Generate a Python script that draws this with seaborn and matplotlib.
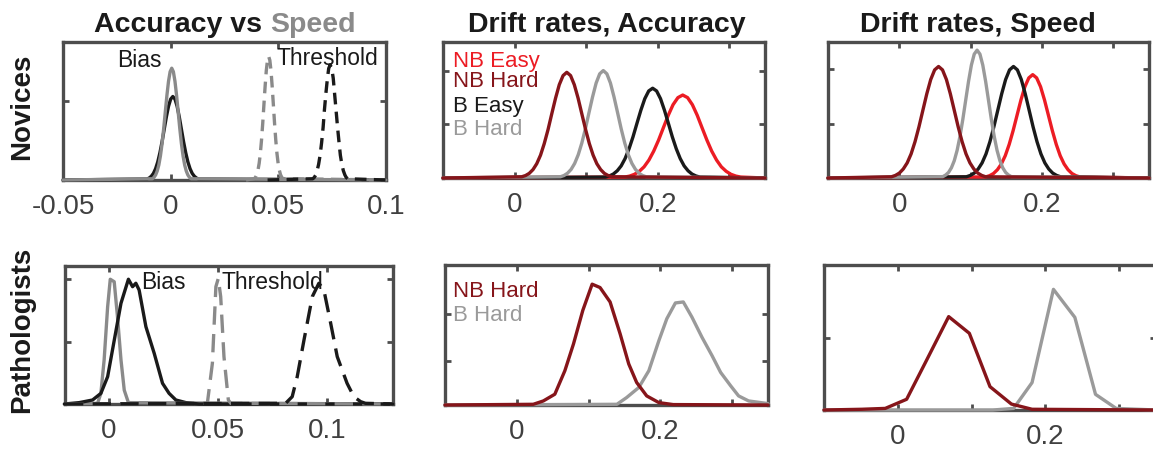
import matplotlib
matplotlib.use("Agg")
import matplotlib.pyplot as plt
import seaborn as sns

# colours
RED = "#ec1c24"
DARKRED = "#86151a"
BLACK = "#1a1a1a"
GRAY = "#9a9a9a"
GRAY_SPD = "#8a8a8a"
AXC = "#4d4d4d"
TICKC = "#404040"

# ---- Novices, accuracy vs speed (bias / threshold posteriors)
tl_bias_acc_x = [-0.05, -0.011, -0.010, -0.009, -0.008, -0.007, -0.006, -0.005, -0.004, -0.003, -0.002, -0.001, 0.0,
                 0.001, 0.002, 0.003, 0.004, 0.005, 0.006, 0.007, 0.008, 0.009, 0.010, 0.011, 0.012, 0.013, 0.1]
tl_bias_acc_y = [0, 0.007, 0.014, 0.027, 0.048, 0.082, 0.131, 0.197, 0.277, 0.367, 0.457, 0.534, 0.586,
                 0.605, 0.586, 0.534, 0.457, 0.367, 0.277, 0.197, 0.131, 0.082, 0.048, 0.027, 0.014, 0.007, 0]
tl_bias_spd_x = [-0.05, -0.0085, -0.00775, -0.007, -0.00625, -0.0055, -0.00475, -0.004, -0.00325, -0.0025, -0.00175,
                 -0.001, -0.00025, 0.0005, 0.00125, 0.002, 0.00275, 0.0035, 0.00425, 0.005, 0.00575, 0.0065,
                 0.00725, 0.008, 0.00875, 0.0095, 0.1]
tl_bias_spd_y = [0, 0.009, 0.019, 0.036, 0.065, 0.109, 0.175, 0.263, 0.371, 0.492, 0.612, 0.715, 0.785,
                 0.81, 0.785, 0.715, 0.612, 0.492, 0.371, 0.263, 0.175, 0.109, 0.065, 0.036, 0.019, 0.009, 0]
tl_thr_spd_x = [0.035, 0.0389, 0.03945, 0.04, 0.04055, 0.0411, 0.04165, 0.0422, 0.04275, 0.0433, 0.04385, 0.0444,
                0.04495, 0.0455, 0.04605, 0.0466, 0.04715, 0.0477, 0.04825, 0.0488, 0.04935, 0.0499, 0.05045,
                0.051, 0.05155, 0.0521, 0.1]
tl_thr_spd_y = [0, 0.010, 0.021, 0.039, 0.072, 0.121, 0.194, 0.291, 0.410, 0.544, 0.676, 0.791, 0.868,
                0.896, 0.868, 0.791, 0.676, 0.544, 0.410, 0.291, 0.194, 0.121, 0.072, 0.039, 0.021, 0.010, 0]
tl_thr_acc_x = [0.045, 0.0660, 0.0667, 0.0674, 0.0680, 0.0687, 0.0694, 0.0701, 0.0708, 0.0714, 0.0721, 0.0728,
                0.0734, 0.0741, 0.0748, 0.0755, 0.0761, 0.0768, 0.0775, 0.0782, 0.0788, 0.0795, 0.0802,
                0.0809, 0.0815, 0.0822, 0.1]
tl_thr_acc_y = [0, 0.009, 0.019, 0.037, 0.067, 0.113, 0.180, 0.271, 0.382, 0.507, 0.630, 0.737, 0.809,
                0.835, 0.809, 0.737, 0.630, 0.507, 0.382, 0.271, 0.180, 0.113, 0.067, 0.037, 0.019, 0.009, 0]

# ---- Novices, drift rates, accuracy
tm_nbe_x = [-0.1, 0.154, 0.1608, 0.1675, 0.1743, 0.181, 0.1878, 0.1945, 0.2013, 0.208, 0.2148, 0.2215, 0.2283,
            0.235, 0.2418, 0.2485, 0.2553, 0.262, 0.2688, 0.2755, 0.2823, 0.289, 0.2958, 0.3025, 0.3093, 0.316, 0.35]
tm_nbe_y = [0, 0.007, 0.014, 0.027, 0.049, 0.082, 0.132, 0.198, 0.279, 0.370, 0.461, 0.539, 0.591,
            0.61, 0.591, 0.539, 0.461, 0.370, 0.279, 0.198, 0.132, 0.082, 0.049, 0.027, 0.014, 0.007, 0]
tm_be_x = [-0.1, 0.127, 0.1325, 0.138, 0.1435, 0.149, 0.1545, 0.16, 0.1655, 0.171, 0.1765, 0.182, 0.1875,
           0.193, 0.1985, 0.204, 0.2095, 0.215, 0.2205, 0.226, 0.2315, 0.237, 0.2425, 0.248, 0.2535, 0.259, 0.35]
tm_be_y = [0, 0.007, 0.015, 0.029, 0.053, 0.089, 0.143, 0.215, 0.302, 0.401, 0.498, 0.583, 0.640,
           0.66, 0.640, 0.583, 0.498, 0.401, 0.302, 0.215, 0.143, 0.089, 0.053, 0.029, 0.015, 0.007, 0]
tm_bh_x = [-0.1, 0.064, 0.069, 0.074, 0.079, 0.084, 0.089, 0.094, 0.099, 0.104, 0.109, 0.114, 0.119,
           0.124, 0.129, 0.134, 0.139, 0.144, 0.149, 0.154, 0.159, 0.164, 0.169, 0.174, 0.179, 0.184, 0.35]
tm_bh_y = [0, 0.009, 0.018, 0.035, 0.063, 0.107, 0.171, 0.257, 0.362, 0.480, 0.596, 0.698, 0.766,
           0.79, 0.766, 0.698, 0.596, 0.480, 0.362, 0.257, 0.171, 0.107, 0.063, 0.035, 0.018, 0.009, 0]
tm_nbh_x = [-0.1, 0.010, 0.0153, 0.0205, 0.0258, 0.031, 0.0363, 0.0415, 0.0468, 0.052, 0.0573, 0.0625, 0.0678,
            0.073, 0.0783, 0.0835, 0.0888, 0.094, 0.0993, 0.1045, 0.1098, 0.115, 0.1203, 0.1255, 0.1308, 0.136, 0.35]
tm_nbh_y = [0, 0.009, 0.018, 0.034, 0.062, 0.105, 0.168, 0.253, 0.356, 0.472, 0.587, 0.686, 0.753,
            0.777, 0.753, 0.686, 0.587, 0.472, 0.356, 0.253, 0.168, 0.105, 0.062, 0.034, 0.018, 0.009, 0]

# ---- Novices, drift rates, speed
tr_nbe_x = [-0.1, 0.121, 0.1265, 0.132, 0.1375, 0.143, 0.1485, 0.154, 0.1595, 0.165, 0.1705, 0.176, 0.1815,
            0.187, 0.1925, 0.198, 0.2035, 0.209, 0.2145, 0.22, 0.2255, 0.231, 0.2365, 0.242, 0.2475, 0.253, 0.35]
tr_nbe_y = [0, 0.008, 0.017, 0.033, 0.061, 0.103, 0.164, 0.247, 0.348, 0.461, 0.574, 0.671, 0.736,
            0.76, 0.736, 0.671, 0.574, 0.461, 0.348, 0.247, 0.164, 0.103, 0.061, 0.033, 0.017, 0.008, 0]
tr_be_x = [-0.1, 0.094, 0.0995, 0.105, 0.1105, 0.116, 0.1215, 0.127, 0.1325, 0.138, 0.1435, 0.149, 0.1545,
           0.16, 0.1655, 0.171, 0.1765, 0.182, 0.1875, 0.193, 0.1985, 0.204, 0.2095, 0.215, 0.2205, 0.226, 0.35]
tr_be_y = [0, 0.009, 0.019, 0.036, 0.066, 0.111, 0.177, 0.267, 0.376, 0.498, 0.619, 0.724, 0.795,
           0.82, 0.795, 0.724, 0.619, 0.498, 0.376, 0.267, 0.177, 0.111, 0.066, 0.036, 0.019, 0.009, 0]
tr_bh_x = [-0.1, 0.061, 0.065, 0.069, 0.073, 0.077, 0.081, 0.085, 0.089, 0.093, 0.097, 0.101, 0.105,
           0.109, 0.113, 0.117, 0.121, 0.125, 0.129, 0.133, 0.137, 0.141, 0.145, 0.149, 0.153, 0.157, 0.35]
tr_bh_y = [0, 0.010, 0.022, 0.041, 0.075, 0.127, 0.203, 0.306, 0.431, 0.571, 0.710, 0.830, 0.911,
           0.94, 0.911, 0.830, 0.710, 0.571, 0.431, 0.306, 0.203, 0.127, 0.075, 0.041, 0.022, 0.010, 0]
tr_nbh_x = [-0.1, -0.011, -0.0055, 0.0, 0.0055, 0.011, 0.0165, 0.022, 0.0275, 0.033, 0.0385, 0.044, 0.0495,
            0.055, 0.0605, 0.066, 0.0715, 0.077, 0.0825, 0.088, 0.0935, 0.099, 0.1045, 0.11, 0.1155, 0.121, 0.35]
tr_nbh_y = [0, 0.009, 0.019, 0.036, 0.066, 0.111, 0.177, 0.267, 0.376, 0.498, 0.619, 0.724, 0.795,
            0.82, 0.795, 0.724, 0.619, 0.498, 0.376, 0.267, 0.177, 0.111, 0.066, 0.036, 0.019, 0.009, 0]

# ---- Pathologists, accuracy vs speed
bl_bias_spd_x = [-0.02, -0.0051, -0.0036, -0.0021, -0.0005, 0.0007, 0.0025, 0.004, 0.0056, 0.0071, 0.009, 0.13]
bl_bias_spd_y = [0, 0.005, 0.077, 0.32, 0.705, 0.904, 0.886, 0.633, 0.32, 0.10, 0.01, 0]
bl_bias_acc_x = [-0.0203, -0.0135, -0.0074, -0.0036, -0.0005, 0.0025, 0.0056, 0.009, 0.0109, 0.0124, 0.0139,
                 0.017, 0.0208, 0.0246, 0.0276, 0.0307, 0.0353, 0.0413, 0.13]
bl_bias_acc_y = [0, 0.01, 0.029, 0.077, 0.198, 0.46, 0.73, 0.904, 0.85, 0.875, 0.826,
                 0.56, 0.367, 0.15, 0.077, 0.029, 0.01, 0, 0]
bl_thr_spd_x = [-0.02, 0.0451, 0.0474, 0.049, 0.0501, 0.0512, 0.0527, 0.0547, 0.0558, 0.13]
bl_thr_spd_y = [0, 0.005, 0.295, 0.85, 0.91, 0.778, 0.343, 0.029, 0.005, 0]
bl_thr_acc_x = [-0.02, 0.0809, 0.0839, 0.0862, 0.0893, 0.0931, 0.0961, 0.0984, 0.1015, 0.1045, 0.109,
                0.1121, 0.1152, 0.1174, 0.13]
bl_thr_acc_y = [0, 0.005, 0.053, 0.198, 0.464, 0.778, 0.875, 0.826, 0.585, 0.343, 0.15,
                0.053, 0.017, 0.005, 0]

# ---- Pathologists, drift rates, accuracy
bm_bh_x = [-0.1, 0.1395, 0.153, 0.170, 0.184, 0.198, 0.209, 0.221, 0.232, 0.244, 0.258, 0.272, 0.284, 0.298, 0.309, 0.323, 0.35]
bm_bh_y = [0, 0.005, 0.053, 0.125, 0.245, 0.46, 0.616, 0.729, 0.736, 0.628, 0.484, 0.353, 0.233, 0.137, 0.065, 0.029, 0.01]
bm_nbh_x = [-0.1, 0.023, 0.037, 0.053, 0.067, 0.079, 0.092, 0.105, 0.116, 0.130, 0.144, 0.156, 0.167, 0.181, 0.198, 0.218, 0.35]
bm_nbh_y = [0, 0.005, 0.029, 0.077, 0.245, 0.436, 0.676, 0.863, 0.839, 0.736, 0.508, 0.293, 0.161, 0.065, 0.017, 0.003, 0]

# ---- Pathologists, drift rates, speed
br_bh_x = [-0.1, 0.129, 0.157, 0.182, 0.211, 0.240, 0.268, 0.296, 0.35]
br_bh_y = [0, 0.0, 0.011, 0.189, 0.832, 0.639, 0.108, 0.011, 0.0]
br_nbh_x = [-0.1, -0.049, -0.017, 0.012, 0.038, 0.069, 0.097, 0.125, 0.154, 0.182, 0.35]
br_nbh_y = [0, 0.005, 0.011, 0.074, 0.333, 0.644, 0.529, 0.161, 0.041, 0.005, 0]

sns.set_theme(style="white")
plt.rcParams["font.family"] = ["Liberation Sans", "DejaVu Sans"]

W, H = 1153, 453
fig = plt.figure(figsize=(W / 100, H / 100), dpi=100)


def make_ax(x0, x1, y0, y1, xlim, xticks, xlabels, yticks):
    ax = fig.add_axes([x0 / W, (H - y1) / H, (x1 - x0) / W, (y1 - y0) / H])
    ax.set_xlim(xlim)
    ax.set_ylim(0, 1)
    ax.set_xticks(xticks)
    ax.set_xticklabels(xlabels)
    ax.set_yticks(yticks)
    ax.tick_params(direction="in", length=4, width=2, color=AXC, top=True, right=True,
                   bottom=True, left=True, labelleft=False, labelsize=20, labelcolor=TICKC, pad=10)
    for s in ax.spines.values():
        s.set_color(AXC)
        s.set_linewidth(2.4)
    return ax


def curve(ax, x, y, color, dash=None):
    kw = dict(linestyle=(0, dash)) if dash else {}
    sns.lineplot(x=x, y=y, ax=ax, color=color, linewidth=2.4, estimator=None,
                 clip_on=False, zorder=3, **kw)


# top row
ax = make_ax(63, 386, 42, 180, (-0.05, 0.1), [-0.05, 0, 0.05, 0.1], ["-0.05", "0", "0.05", "0.1"], [0.575])
curve(ax, tl_bias_acc_x, tl_bias_acc_y, BLACK)
curve(ax, tl_bias_spd_x, tl_bias_spd_y, GRAY_SPD)
curve(ax, tl_thr_spd_x, tl_thr_spd_y, GRAY_SPD, dash=(3.5, 2.2))
curve(ax, tl_thr_acc_x, tl_thr_acc_y, BLACK, dash=(3.5, 2.2))
ax.text(-0.025, 0.82, "Bias", fontsize=16.5, color=BLACK)
ax.text(0.049, 0.833, "Threshold", fontsize=16.5, color=BLACK)

ax = make_ax(443, 765, 42, 178, (-0.1, 0.35), [0, 0.1, 0.2, 0.3], ["0", "", "0.2", ""], [0.40, 0.79])
curve(ax, tm_nbe_x, tm_nbe_y, RED)
curve(ax, tm_be_x, tm_be_y, BLACK)
curve(ax, tm_bh_x, tm_bh_y, GRAY)
curve(ax, tm_nbh_x, tm_nbh_y, DARKRED)
for lab, yy, c in [("NB Easy", 0.818, RED), ("NB Hard", 0.667, DARKRED),
                   ("B Easy", 0.488, BLACK), ("B Hard", 0.316, GRAY)]:
    ax.text(-0.086, yy, lab, fontsize=16, color=c)

ax = make_ax(828, 1149, 42, 178, (-0.1, 0.35), [0, 0.1, 0.2, 0.3], ["0", "", "0.2", ""], [0.40, 0.80])
curve(ax, tr_nbe_x, tr_nbe_y, RED)
curve(ax, tr_be_x, tr_be_y, BLACK)
curve(ax, tr_bh_x, tr_bh_y, GRAY)
curve(ax, tr_nbh_x, tr_nbh_y, DARKRED)

# bottom row
ax = make_ax(65, 393, 266, 404, (-0.02, 0.13), [0, 0.05, 0.1], ["0", "0.05", "0.1"], [0.45, 0.905])
curve(ax, bl_bias_spd_x, bl_bias_spd_y, GRAY_SPD)
curve(ax, bl_bias_acc_x, bl_bias_acc_y, BLACK)
curve(ax, bl_thr_spd_x, bl_thr_spd_y, GRAY_SPD, dash=(5.5, 2.8))
curve(ax, bl_thr_acc_x, bl_thr_acc_y, BLACK, dash=(5.5, 2.8))
ax.text(0.015, 0.83, "Bias", fontsize=16.5, color=BLACK)
ax.text(0.0516, 0.83, "Threshold", fontsize=16.5, color=BLACK)

ax = make_ax(445, 768, 265, 405, (-0.1, 0.35), [0, 0.1, 0.2, 0.3], ["0", "", "0.2", ""], [0.317, 0.652])
curve(ax, bm_bh_x, bm_bh_y, GRAY)
curve(ax, bm_nbh_x, bm_nbh_y, DARKRED)
ax.text(-0.089, 0.774, "NB Hard", fontsize=16, color=DARKRED)
ax.text(-0.089, 0.602, "B Hard", fontsize=16, color=GRAY)

ax = make_ax(824, 1156, 265, 410, (-0.1, 0.35), [0, 0.1, 0.2, 0.3], ["0", "", "0.2", ""], [0.50])
curve(ax, br_bh_x, br_bh_y, GRAY)
curve(ax, br_nbh_x, br_nbh_y, DARKRED)

# titles and row labels
ty = (H - 32) / H
fig.text(262 / W, ty, "Accuracy vs", fontsize=20.5, fontweight="bold", color=BLACK, ha="right", va="baseline")
fig.text(270 / W, ty, "Speed", fontsize=20.5, fontweight="bold", color=GRAY_SPD, ha="left", va="baseline")
fig.text(607 / W, ty, "Drift rates, Accuracy", fontsize=20.5, fontweight="bold", color=BLACK, ha="center", va="baseline")
fig.text(978 / W, ty, "Drift rates, Speed", fontsize=20.5, fontweight="bold", color=BLACK, ha="center", va="baseline")
fig.text(22 / W, (H - 107) / H, "Novices", fontsize=20, fontweight="bold", color=BLACK,
         rotation=90, ha="center", va="center")
fig.text(22 / W, (H - 330) / H, "Pathologists", fontsize=20, fontweight="bold", color=BLACK,
         rotation=90, ha="center", va="center")

fig.savefig("out.png", dpi=100)
